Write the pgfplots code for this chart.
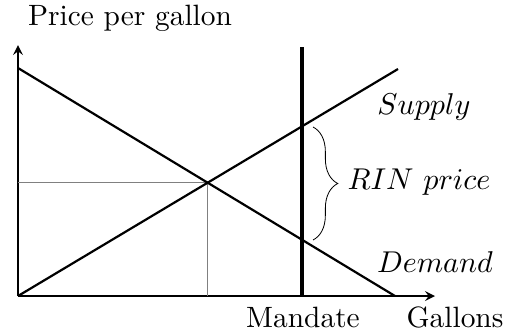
\documentclass[border=0pt]{standalone}
\usepackage{pgfplots}
\pgfplotsset{compat=1.18}
\usetikzlibrary{decorations.pathreplacing}

\begin{document}
\begin{tikzpicture}[every node/.style={font=\fontsize{10.7}{13}\selectfont}]
\begin{axis}[
    x=0.364pt, y=0.364pt,
    xmin=0, xmax=417,
    ymin=0, ymax=251,
    axis lines=left,
    axis line style={line width=0.6pt},
    ticks=none,
    clip=false,
]
% equilibrium guides
\addplot[gray, line width=0.3pt] coordinates {(0,114) (189,114) (189,0)};
% demand and supply
\addplot[black, line width=0.8pt] coordinates {(0,228) (377,0)};
\addplot[black, line width=0.8pt] coordinates {(0,0) (380,227)};
% mandate
\addplot[black, line width=1.6pt] coordinates {(284,0) (284,249)};
% RIN price brace
\draw[decorate, decoration={brace, amplitude=9pt}, line width=0.3pt]
    (axis cs:295,169) -- (axis cs:295,56);
\node at (axis cs:406,189) {$Supply$};
\node at (axis cs:401,114) {$RIN~price$};
\node at (axis cs:417,34) {$Demand$};
\node at (axis cs:285,-21) {Mandate};
\node at (axis cs:437,-21) {Gallons};
\node at (axis cs:112,278) {Price per gallon};
\coordinate (bl) at (axis cs:-18,-33);
\coordinate (tr) at (axis cs:487,296);
\end{axis}
\pgfresetboundingbox
\path (bl) rectangle (tr);
\end{tikzpicture}
\end{document}
